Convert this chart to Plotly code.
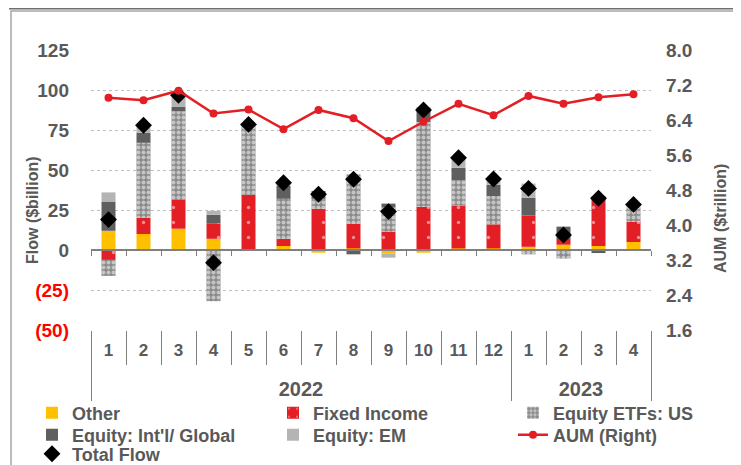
import plotly.graph_objects as go

year_labels = ["2022"] * 12 + ["2023"] * 4
months = ["1", "2", "3", "4", "5", "6", "7", "8", "9", "10", "11", "12", "1", "2", "3", "4"]

other = [12, 10, 13.3, 7, 0.5, 2.5, -1.7, 1, -2.3, -1.7, 1, 1, 2, 3.3, 2.5, 5]
fixed_income = [-6.2, 10, 18, 9.7, 34, 4.5, 25.8, 15.5, 11.5, 27, 26.7, 15, 19.5, 3.6, 29.2, 12.7]
equity_us = [-10, 47, 55.4, -32, 43, 25, 6.2, 30.8, 15, 53, 16, 17.7, -2.7, -5.4, 0, 8.7]
equity_intl = [18, 6.3, 2.7, 5.3, 0, 8, 4.9, -2.7, 2.5, 8, 7.7, 7, 11.2, 7.7, -1.9, 0]
equity_em = [6, 4.2, 7.7, 2.5, 1, 1, 0, 0, -2.5, 1.4, 6.2, 3.3, 8.8, 0, 2, 1.5]
total_flow = [19, 78, 96.7, -7.9, 78.5, 42, 34.8, 44.2, 24, 87.5, 57.7, 44.4, 38.5, 9.4, 32.3, 28.5]
aum = [6.91, 6.85, 7.07, 6.55, 6.64, 6.19, 6.63, 6.44, 5.92, 6.36, 6.77, 6.51, 6.95, 6.77, 6.92, 6.99]

flow_ticks = [-50, -25, 0, 25, 50, 75, 100, 125]
flow_ticktext = ['<span style="color:#FF0000">(50)</span>', '<span style="color:#FF0000">(25)</span>',
                 "0", "25", "50", "75", "100", "125"]
aum_ticks = [1.6, 2.4, 3.2, 4.0, 4.8, 5.6, 6.4, 7.2, 8.0]

GRAY = "#595959"
RED = "#E31E24"
FONT = "Liberation Sans, Arial, sans-serif"

# page body has an 8px margin: plot area is placed at screen x 91..651, y 50..330
OFF = 8
PL, PR, PT, PB = 91, 651, 50, 330
W_P, H_P = PR - PL, PB - PT


def px(xs):
    return (xs - PL) / W_P


def py(ys):
    return (PB - ys) / H_P


years = ['<br><span style="font-size:20px;baseline-shift:-5px">%s</span>' % y for y in year_labels]
x = [years, months]

fig = go.Figure()
fig.add_bar(x=x, y=other, name="Other", legend="legend",
            marker=dict(color="#FFC000", line_width=0))
fig.add_bar(x=x, y=fixed_income, name="Fixed Income", legend="legend2",
            marker=dict(color=RED, line_width=0,
                        pattern=dict(shape=".", fgcolor="white", bgcolor=RED, size=15, solidity=0.04,
                                     fillmode="overlay")))
fig.add_bar(x=x, y=equity_us, name="Equity ETFs: US", legend="legend3",
            marker=dict(color="#8A8A8A", line_width=0,
                        pattern=dict(shape=".", fgcolor="white", bgcolor="#8A8A8A", size=5, solidity=0.5,
                                     fillmode="overlay")))
fig.add_bar(x=x, y=equity_intl, name="Equity: Int'l/ Global", legend="legend4",
            marker=dict(color="#5F5F5F", line_width=0))
fig.add_bar(x=x, y=equity_em, name="Equity: EM", legend="legend5",
            marker=dict(color="#B4B4B4", line_width=0))
fig.add_scatter(x=x, y=aum, name="AUM (Right)", yaxis="y2", mode="lines+markers", legend="legend6",
                line=dict(color=RED, width=2.5), marker=dict(color=RED, size=8))
fig.add_scatter(x=x, y=total_flow, name="Total Flow", mode="markers", legend="legend7",
                marker=dict(symbol="diamond", color="black", size=13))
fig.add_scatter(x=[None], y=[None], xaxis="x2", showlegend=False, hoverinfo="skip")

legend_font = dict(family=FONT, size=18, color=GRAY, weight="bold")
col_text_x = [74, 315, 555]
row_y = [413, 435, 454]
legend_pos = {
    "legend": (0, 0), "legend2": (1, 0), "legend3": (2, 0),
    "legend4": (0, 1), "legend5": (1, 1), "legend6": (2, 1),
    "legend7": (0, 2),
}
legends = {}
for key, (c, r) in legend_pos.items():
    legends[key] = dict(x=px(col_text_x[c] - 42), xanchor="left", y=py(row_y[r]), yanchor="middle",
                        orientation="v", font=legend_font, bgcolor="rgba(0,0,0,0)", itemwidth=30)

fig.update_layout(
    width=741, height=465,
    margin=dict(l=PL - OFF, r=741 - (PR - OFF), t=PT - OFF, b=465 - (PB - OFF), autoexpand=False),
    paper_bgcolor="white", plot_bgcolor="white",
    barmode="relative", bargap=0.6,
    font=dict(family=FONT, color=GRAY, size=16, weight="bold"),
    showlegend=True,
    **legends,
    xaxis=dict(type="multicategory", range=[-0.5, 15.5], tickson="boundaries", ticks="outside",
               ticklen=34, tickcolor="#7F7F7F", showdividers=True, dividercolor="#7F7F7F",
               dividerwidth=1, showgrid=False, showline=False, zeroline=False, ticklabelstandoff=8,
               tickfont=dict(family=FONT, size=17, color=GRAY, weight="bold")),
    xaxis2=dict(overlaying="x", anchor="free", position=50 / 175, range=[0.5, 16.5],
                tickvals=[i + 0.5 for i in range(17)], showticklabels=False, ticks="outside",
                ticklen=5, tickcolor="#7F7F7F", showline=True, linecolor="#7F7F7F", linewidth=1.5,
                showgrid=False, zeroline=False),
    yaxis=dict(range=[-50, 125], tickvals=flow_ticks, ticktext=flow_ticktext,
               showgrid=True, gridcolor="#BFBFBF", griddash="dot", gridwidth=1,
               zeroline=False, showline=False, ticks="", ticklabelstandoff=21,
               tickfont=dict(family=FONT, size=19, color=GRAY, weight="bold")),
    yaxis2=dict(range=[1.6, 8.0], tickvals=aum_ticks, tickformat=".1f", overlaying="y", side="right",
                showgrid=False, zeroline=False, showline=False, ticks="", ticklabelstandoff=14,
                tickfont=dict(family=FONT, size=19, color=GRAY, weight="bold")),
    annotations=[
        dict(text="Flow ($billion)", textangle=-90, xref="paper", yref="paper",
             x=px(32), y=py(210), xanchor="center", yanchor="middle", showarrow=False,
             font=dict(family=FONT, size=16, color=GRAY, weight="bold")),
        dict(text="AUM ($trillion)", textangle=-90, xref="paper", yref="paper",
             x=px(720), y=py(219), xanchor="center", yanchor="middle", showarrow=False,
             font=dict(family=FONT, size=16, color=GRAY, weight="bold")),
    ],
    shapes=[
        dict(type="rect", xref="paper", yref="paper", x0=px(11), x1=px(738),
             y0=py(490), y1=py(11), line=dict(color="#A6A6A6", width=1.5),
             fillcolor="rgba(0,0,0,0)", layer="below"),
        dict(type="line", xref="paper", yref="paper", x0=px(9), x1=px(733),
             y0=py(8.5), y1=py(8.5), line=dict(color="#6F6F6F", width=2)),
    ],
)

fig.write_html("out.html")
